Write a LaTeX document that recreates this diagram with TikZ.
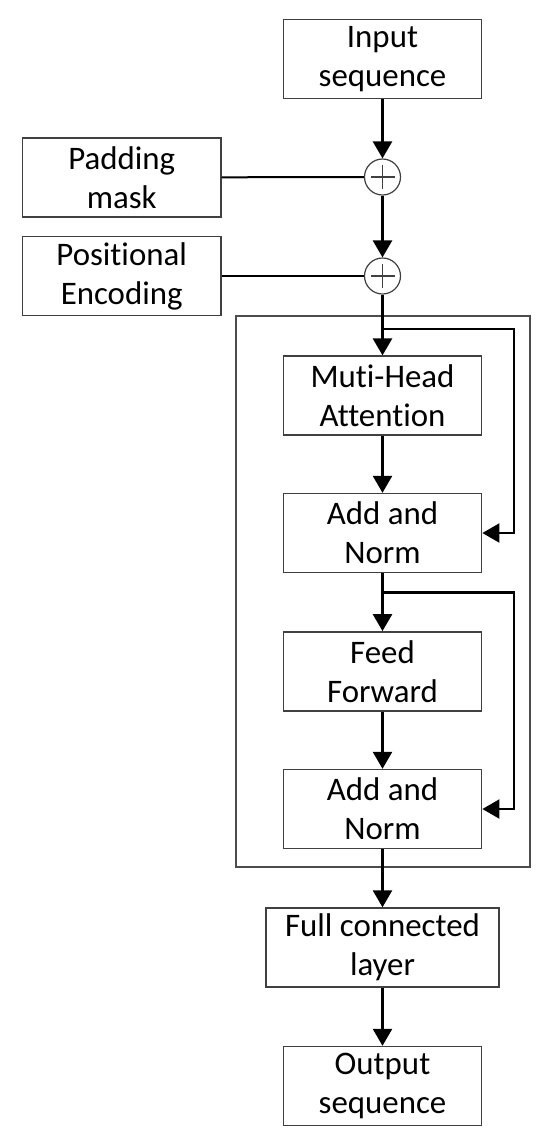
\documentclass[tikz,border=0pt]{standalone}
\usepackage{fontspec}
\setmainfont{Carlito}[RawFeature={-liga}]
\usetikzlibrary{arrows.meta}
\begin{document}
\begin{tikzpicture}[x=1bp,y=-1bp,
  box/.style={draw=black!75, line width=1.4bp, rectangle, inner sep=0pt,
    minimum width=198.4bp, minimum height=79bp, align=center,
    font=\fontsize{33}{39}\selectfont},
  frame/.style={draw=black!70, line width=1.5bp, rectangle, inner sep=0pt,
    minimum width=294bp, minimum height=551bp},
  sumnode/.style={draw=black!75, line width=1.2bp, circle, inner sep=0pt,
    minimum size=36bp,
    path picture={\draw[black!75, line width=1.2bp]
      ([xshift=-12bp]path picture bounding box.center) -- ([xshift=12bp]path picture bounding box.center)
      ([yshift=-12bp]path picture bounding box.center) -- ([yshift=12bp]path picture bounding box.center);}},
  arr/.style={line width=2.6bp, -{Triangle[length=17bp,width=19bp]}},
  skip/.style={line width=2.2bp, line join=miter, -{Triangle[length=17bp,width=19bp]}},
  feed/.style={line width=2bp}
]
\useasboundingbox[fill=white] (0,0) rectangle (550,1143);

\node[frame] (enc) at (383,591.5) {};

\node[box] (inp) at (382.5,58.7) {Input\\sequence};
\node[box] (pad) at (121.7,177.3) {Padding\\mask};
\node[box] (pos) at (121.7,276) {Positional\\Encoding};
\node[sumnode] (c1) at (382.5,177) {};
\node[sumnode] (c2) at (382.5,276) {};

\node[box] (mha) at (382.5,395.6) {Muti-Head\\Attention};
\node[box] (an1) at (382.5,533) {Add and\\Norm};
\node[box] (ff)  at (382.5,671.3) {Feed\\Forward};
\node[box] (an2) at (382.5,809) {Add and\\Norm};
\node[box, minimum width=233bp] (fc) at (382.5,947.5) {Full connected\\layer};
\node[box] (out) at (382.5,1086) {Output\\sequence};

\coordinate (b1) at (382.5,329);
\coordinate (r1) at (514,329);
\coordinate (b2) at (382.5,592.4);
\coordinate (r2) at (514,592.4);

\draw[arr] (inp.south) -- (c1.north);
\draw[arr] (c1.south) -- (c2.north);
\draw[feed] (pad.east) -- (c1.west);
\draw[feed] (pos.east) -- (c2.west);
\draw[arr] (c2.south) -- (mha.north);
\draw[skip] (b1) -- (r1) |- (an1.east);
\draw[arr] (mha.south) -- (an1.north);
\draw[arr] (an1.south) -- (ff.north);
\draw[skip] (b2) -- (r2) |- (an2.east);
\draw[arr] (ff.south) -- (an2.north);
\draw[arr] (an2.south) -- (fc.north);
\draw[arr] (fc.south) -- (out.north);
\end{tikzpicture}
\end{document}
